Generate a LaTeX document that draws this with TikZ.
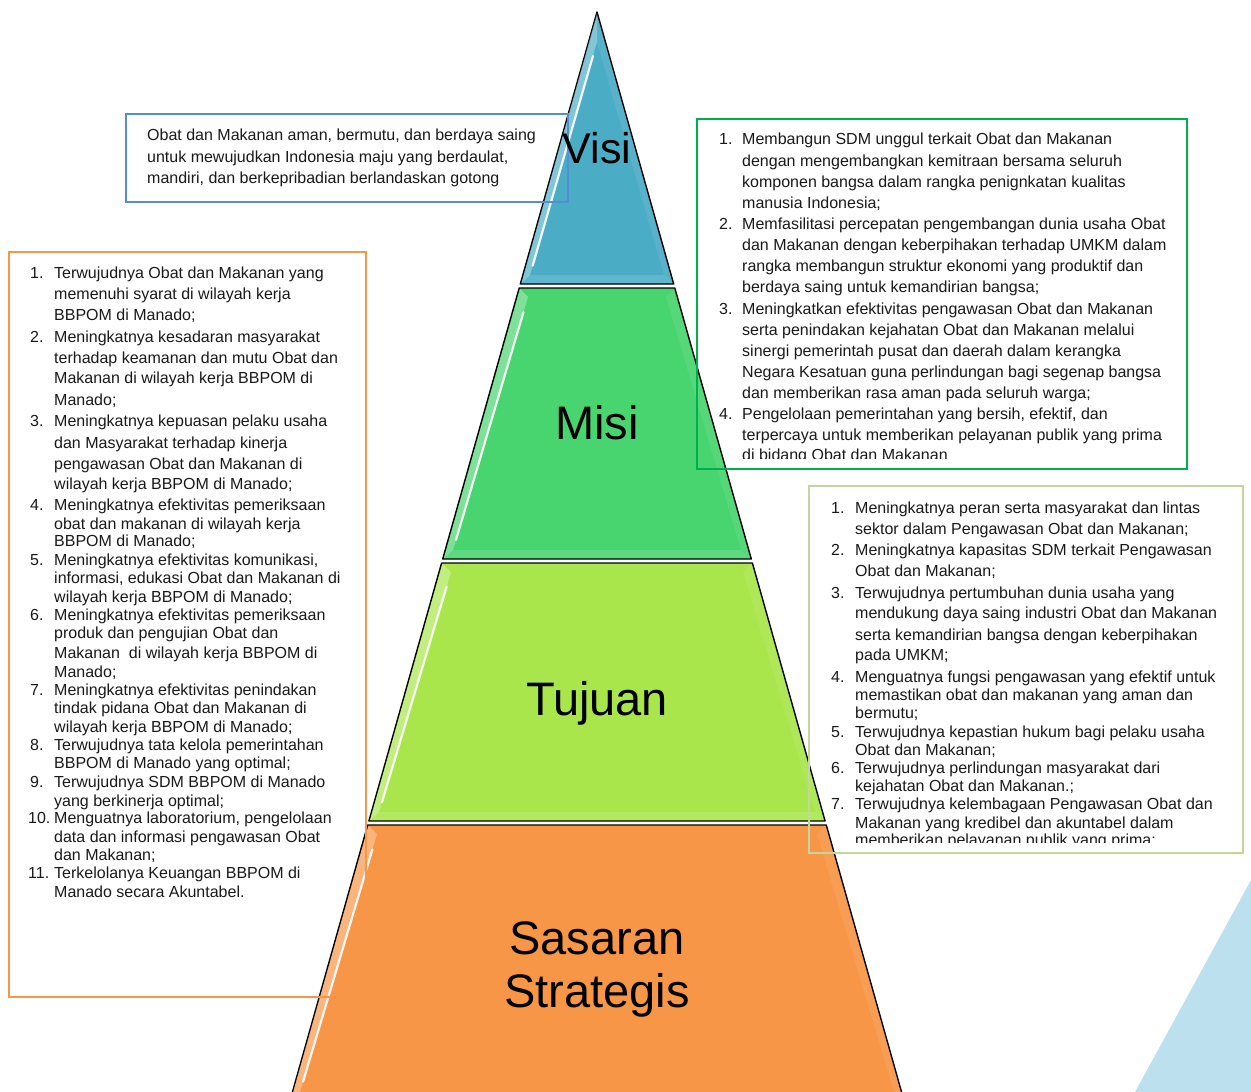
\documentclass[tikz,border=0pt]{standalone}
\usepackage{fontspec}
\setmainfont{Liberation Sans}
\usetikzlibrary{calc}
\definecolor{visicol}{HTML}{4BACC6}
\definecolor{misicol}{HTML}{48D46F}
\definecolor{tujcol}{HTML}{A9E64B}
\definecolor{sascol}{HTML}{F79646}
\definecolor{visibox}{HTML}{558ED5}
\definecolor{misibox}{HTML}{00B050}
\definecolor{sasbox}{HTML}{F79646}
\definecolor{tujbox}{HTML}{C3D69B}
\definecolor{decotri}{HTML}{BDE0EE}
\newcommand\bline[4]{\node[body] (#1) at (#2,#3) {#4};}
\newcommand\bevelq[8]{%
 \fill[white,opacity=.30] #1 -- #4 -- #8 -- #5 -- cycle;
 \fill[white,opacity=.12] #4 -- #3 -- #7 -- #8 -- cycle;
 \fill[white,opacity=.08] #2 -- #3 -- #7 -- #6 -- cycle;
 \draw[white,opacity=.9,line width=2.2pt,line cap=round] ($#5!.06!#8$) -- ($#5!.96!#8$);
}
\begin{document}
\begin{tikzpicture}[x=1pt,y=-1pt,
  body/.style={anchor=base west,inner sep=0pt,font=\fontsize{16}{19}\selectfont,text=black!90},
  big/.style={anchor=base,inner sep=0pt,font=\fontsize{47}{52}\selectfont},
  layer/.style={draw=black,line width=1.4pt,line join=round},
  tbox/.style={line width=2pt}]
\useasboundingbox (0,0) rectangle (1251,1092);
\clip (0,0) rectangle (1251,1092);
\fill[decotri] (1135,1092) -- (1251,880) -- (1251,1092) -- cycle;
% pyramid layers
\path[layer,fill=visicol] (597,12) -- (673.7,284) -- (520.3,284) -- cycle;
\path[layer,fill=misicol] (519.2,288) -- (674.8,288) -- (751.3,559) -- (442.7,559) -- cycle;
\path[layer,fill=tujcol] (441.6,563) -- (752.4,563) -- (825.1,821) -- (368.9,821) -- cycle;
\path[layer,fill=sascol] (367.7,825) -- (826.3,825) -- (903.8,1100) -- (290.2,1100) -- cycle;
% bevel highlights
\bevelq{(597,13)}{(597,13)}{(672.5,283)}{(521.5,283)}{(597,42)}{(597,42)}{(664,275)}{(530,275)}
\bevelq{(520,289)}{(674,289)}{(750,558)}{(444,558)}{(528,297)}{(666,297)}{(741,550)}{(453,550)}
\bevelq{(442.5,564)}{(751.5,564)}{(824,820)}{(370,820)}{(451,572)}{(743,572)}{(815,812)}{(379,812)}
\bevelq{(368.5,826)}{(825.5,826)}{(903,1099)}{(291,1099)}{(377,834)}{(817,834)}{(894,1092)}{(300,1092)}
% boxes
\draw[tbox,visibox] (126,114) rectangle (568,202);
\draw[tbox,misibox] (697,119) rectangle (1187,469);
\draw[tbox,sasbox] (9,252) rectangle (366,997);
\draw[tbox,tujbox] (809,486) rectangle (1243,853);
% big labels
\node[big,font=\fontsize{43}{48}\selectfont] (visi) at (597,163) {Visi};
\node[big] (misi) at (597,439) {Misi};
\node[big] (tujuan) at (597,715) {Tujuan};
\node[big] (sasaran) at (597,954) {Sasaran};
\node[big] (strategis) at (597,1007) {Strategis};
% visi text
\bline{v1}{147}{140}{Obat dan Makanan aman, bermutu, dan berdaya saing}
\bline{v2}{147}{162}{untuk mewujudkan Indonesia maju yang berdaulat,}
\bline{v3}{147}{183}{mandiri, dan berkepribadian berlandaskan gotong}
% misi text
\begin{scope}
\clip (697,119) rectangle (1187,458);
\bline{mn1}{719}{144}{1.}
\bline{m1a}{742}{144}{Membangun SDM unggul terkait Obat dan Makanan}
\bline{m1b}{742}{166}{dengan mengembangkan kemitraan bersama seluruh}
\bline{m1c}{742}{187}{komponen bangsa dalam rangka penignkatan kualitas}
\bline{m1d}{742}{208}{manusia Indonesia;}
\bline{mn2}{719}{229}{2.}
\bline{m2a}{742}{229}{Memfasilitasi percepatan pengembangan dunia usaha Obat}
\bline{m2b}{742}{250}{dan Makanan dengan keberpihakan terhadap UMKM dalam}
\bline{m2c}{742}{271}{rangka membangun struktur ekonomi yang produktif dan}
\bline{m2d}{742}{292}{berdaya saing untuk kemandirian bangsa;}
\bline{mn3}{719}{314}{3.}
\bline{m3a}{742}{314}{Meningkatkan efektivitas pengawasan Obat dan Makanan}
\bline{m3b}{742}{335}{serta penindakan kejahatan Obat dan Makanan melalui}
\bline{m3c}{742}{356}{sinergi pemerintah pusat dan daerah dalam kerangka}
\bline{m3d}{742}{377}{Negara Kesatuan guna perlindungan bagi segenap bangsa}
\bline{m3e}{742}{398}{dan memberikan rasa aman pada seluruh warga;}
\bline{mn4}{719}{419}{4.}
\bline{m4a}{742}{419}{Pengelolaan pemerintahan yang bersih, efektif, dan}
\bline{m4b}{742}{440}{terpercaya untuk memberikan pelayanan publik yang prima}
\bline{m4c}{742}{460}{di bidang Obat dan Makanan}
\end{scope}
% sasaran text (left box)
\bline{sn1}{30}{278}{1.}
\bline{s1a}{54}{278}{Terwujudnya Obat dan Makanan yang}
\bline{s1b}{54}{299}{memenuhi syarat di wilayah kerja}
\bline{s1c}{54}{320}{BBPOM di Manado;}
\bline{sn2}{30}{342}{2.}
\bline{s2a}{54}{342}{Meningkatnya kesadaran masyarakat}
\bline{s2b}{54}{363}{terhadap keamanan dan mutu Obat dan}
\bline{s2c}{54}{383}{Makanan di wilayah kerja BBPOM di}
\bline{s2d}{54}{405}{Manado;}
\bline{sn3}{30}{426}{3.}
\bline{s3a}{54}{426}{Meningkatnya kepuasan pelaku usaha}
\bline{s3b}{54}{448}{dan Masyarakat terhadap kinerja}
\bline{s3c}{54}{469}{pengawasan Obat dan Makanan di}
\bline{s3d}{54}{489}{wilayah kerja BBPOM di Manado;}
\bline{sn4}{30}{510}{4.}
\bline{s4a}{54}{510}{Meningkatnya efektivitas pemeriksaan}
\bline{s4b}{54}{529}{obat dan makanan di wilayah kerja}
\bline{s4c}{54}{546}{BBPOM di Manado;}
\bline{sn5}{30}{565}{5.}
\bline{s5a}{54}{565}{Meningkatnya efektivitas komunikasi,}
\bline{s5b}{54}{583}{informasi, edukasi Obat dan Makanan di}
\bline{s5c}{54}{602}{wilayah kerja BBPOM di Manado;}
\bline{sn6}{30}{620}{6.}
\bline{s6a}{54}{620}{Meningkatnya efektivitas pemeriksaan}
\bline{s6b}{54}{638}{produk dan pengujian Obat dan}
\bline{s6c}{54}{658}{Makanan\ \ di wilayah kerja BBPOM di}
\bline{s6d}{54}{677}{Manado;}
\bline{sn7}{30}{695}{7.}
\bline{s7a}{54}{695}{Meningkatnya efektivitas penindakan}
\bline{s7b}{54}{713}{tindak pidana Obat dan Makanan di}
\bline{s7c}{54}{732}{wilayah kerja BBPOM di Manado;}
\bline{sn8}{30}{750}{8.}
\bline{s8a}{54}{750}{Terwujudnya tata kelola pemerintahan}
\bline{s8b}{54}{768}{BBPOM di Manado yang optimal;}
\bline{sn9}{30}{787}{9.}
\bline{s9a}{54}{787}{Terwujudnya SDM BBPOM di Manado}
\bline{s9b}{54}{806}{yang berkinerja optimal;}
\bline{sn10}{28}{823}{10.}
\bline{s10a}{54}{823}{Menguatnya laboratorium, pengelolaan}
\bline{s10b}{54}{842}{data dan informasi pengawasan Obat}
\bline{s10c}{54}{860}{dan Makanan;}
\bline{sn11}{28}{878}{11.}
\bline{s11a}{54}{878}{Terkelolanya Keuangan BBPOM di}
\bline{s11b}{54}{897}{Manado secara Akuntabel.}
% tujuan text (right box)
\begin{scope}
\clip (809,486) rectangle (1243,842);
\bline{tn1}{831}{513}{1.}
\bline{t1a}{855}{513}{Meningkatnya peran serta masyarakat dan lintas}
\bline{t1b}{855}{534}{sektor dalam Pengawasan Obat dan Makanan;}
\bline{tn2}{831}{555}{2.}
\bline{t2a}{855}{555}{Meningkatnya kapasitas SDM terkait Pengawasan}
\bline{t2b}{855}{576}{Obat dan Makanan;}
\bline{tn3}{831}{598}{3.}
\bline{t3a}{855}{598}{Terwujudnya pertumbuhan dunia usaha yang}
\bline{t3b}{855}{618}{mendukung daya saing industri Obat dan Makanan}
\bline{t3c}{855}{640}{serta kemandirian bangsa dengan keberpihakan}
\bline{t3d}{855}{660}{pada UMKM;}
\bline{tn4}{831}{682}{4.}
\bline{t4a}{855}{682}{Menguatnya fungsi pengawasan yang efektif untuk}
\bline{t4b}{855}{700}{memastikan obat dan makanan yang aman dan}
\bline{t4c}{855}{718}{bermutu;}
\bline{tn5}{831}{737}{5.}
\bline{t5a}{855}{737}{Terwujudnya kepastian hukum bagi pelaku usaha}
\bline{t5b}{855}{755}{Obat dan Makanan;}
\bline{tn6}{831}{773}{6.}
\bline{t6a}{855}{773}{Terwujudnya perlindungan masyarakat dari}
\bline{t6b}{855}{791}{kejahatan Obat dan Makanan.;}
\bline{tn7}{831}{809}{7.}
\bline{t7a}{855}{809}{Terwujudnya kelembagaan Pengawasan Obat dan}
\bline{t7b}{855}{828}{Makanan yang kredibel dan akuntabel dalam}
\bline{t7c}{855}{845}{memberikan pelayanan publik yang prima;}
\end{scope}
\end{tikzpicture}
\end{document}
